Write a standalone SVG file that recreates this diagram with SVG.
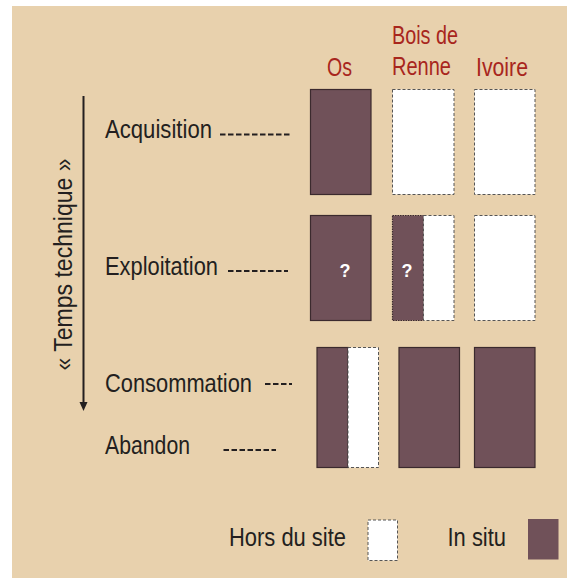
<svg xmlns="http://www.w3.org/2000/svg" width="567" height="579" viewBox="0 0 567 579">
<defs>
<style>
.lbl{font-family:"Liberation Sans",Arial,sans-serif;font-size:25px;fill:#231f20;}
.hdr{font-family:"Liberation Sans",Arial,sans-serif;font-size:25px;fill:#a8261d;}
.q{font-family:"Liberation Sans",Arial,sans-serif;font-size:18px;font-weight:bold;fill:#ffffff;text-anchor:middle;}
.in{fill:#705159;stroke:#3b2a2e;stroke-width:1.2;}
.out{fill:#ffffff;stroke:#555555;stroke-width:1;stroke-dasharray:3 2;}
.dash{stroke:#231f20;stroke-width:2;stroke-dasharray:5.5 2.5;}
</style>
</defs>
<rect x="0" y="0" width="567" height="579" fill="#ffffff"/>
<rect x="12" y="6" width="555" height="572" fill="#e8d1ad"/>

<g id="headers">
<text class="hdr" x="327" y="76" textLength="25" lengthAdjust="spacingAndGlyphs">Os</text>
<text class="hdr" x="392" y="44" textLength="66" lengthAdjust="spacingAndGlyphs">Bois de</text>
<text class="hdr" x="392" y="75" textLength="59" lengthAdjust="spacingAndGlyphs">Renne</text>
<text class="hdr" x="476" y="76" textLength="52" lengthAdjust="spacingAndGlyphs">Ivoire</text>
</g>

<g id="axis">
<line x1="83.5" y1="96" x2="83.5" y2="403" stroke="#231f20" stroke-width="2"/>
<path d="M79.5,402 L87.5,402 L83.5,411 Z" fill="#231f20"/>
<text class="lbl" transform="translate(72,264.5) rotate(-90)" x="0" y="0" text-anchor="middle" font-size="27" textLength="212" lengthAdjust="spacingAndGlyphs">« Temps technique »</text>
</g>

<g id="acquisition">
<text class="lbl" x="105" y="137.5" textLength="107" lengthAdjust="spacingAndGlyphs">Acquisition</text>
</g>
<g id="exploitation">
<text class="lbl" x="105" y="275" textLength="113" lengthAdjust="spacingAndGlyphs">Exploitation</text>
</g>
<g id="consommation">
<text class="lbl" x="105" y="391.5" textLength="147" lengthAdjust="spacingAndGlyphs">Consommation</text>
</g>
<g id="abandon">
<text class="lbl" x="105" y="453.5" textLength="85" lengthAdjust="spacingAndGlyphs">Abandon</text>
</g>

<g id="connectors">
<line class="dash" x1="220" y1="134.5" x2="292" y2="134.5"/>
<line class="dash" x1="228" y1="271" x2="288" y2="271"/>
<line class="dash" x1="265" y1="384" x2="292" y2="384" stroke-dasharray="5 2"/>
<line class="dash" x1="223.5" y1="450" x2="276" y2="450" stroke-dasharray="6 3"/>
</g>

<g id="os-acquisition"><rect class="in" x="310.5" y="89.5" width="60.5" height="105"/></g>
<g id="bois-acquisition"><rect class="out" x="392.5" y="89.5" width="61.5" height="105"/></g>
<g id="ivoire-acquisition"><rect class="out" x="474.5" y="89.5" width="60.5" height="105"/></g>

<g id="os-exploitation">
<rect class="in" x="310.5" y="215.5" width="60.5" height="105"/>
<text class="q" x="345" y="277">?</text>
</g>
<g id="bois-exploitation">
<rect class="in" x="392.5" y="215.5" width="31" height="105" stroke-dasharray="1.5 1"/>
<rect class="out" x="423.5" y="215.5" width="30.5" height="105"/>
<text class="q" x="407" y="277">?</text>
</g>
<g id="ivoire-exploitation"><rect class="out" x="474.5" y="215.5" width="60.5" height="105"/></g>

<g id="os-consommation">
<rect class="in" x="317" y="347.5" width="31" height="120"/>
<rect class="out" x="348" y="347.5" width="30.5" height="120"/>
</g>
<g id="bois-consommation"><rect class="in" x="399" y="347.5" width="60.5" height="120"/></g>
<g id="ivoire-consommation"><rect class="in" x="474.5" y="347.5" width="60.5" height="120"/></g>

<g id="legend">
<text class="lbl" x="229" y="546" textLength="117" lengthAdjust="spacingAndGlyphs">Hors du site</text>
<rect class="out" x="368" y="520" width="29.5" height="40.5"/>
<text class="lbl" x="447.5" y="546" textLength="58.5" lengthAdjust="spacingAndGlyphs">In situ</text>
<rect x="528" y="519" width="30.5" height="40.5" fill="#705159"/>
</g>
</svg>
